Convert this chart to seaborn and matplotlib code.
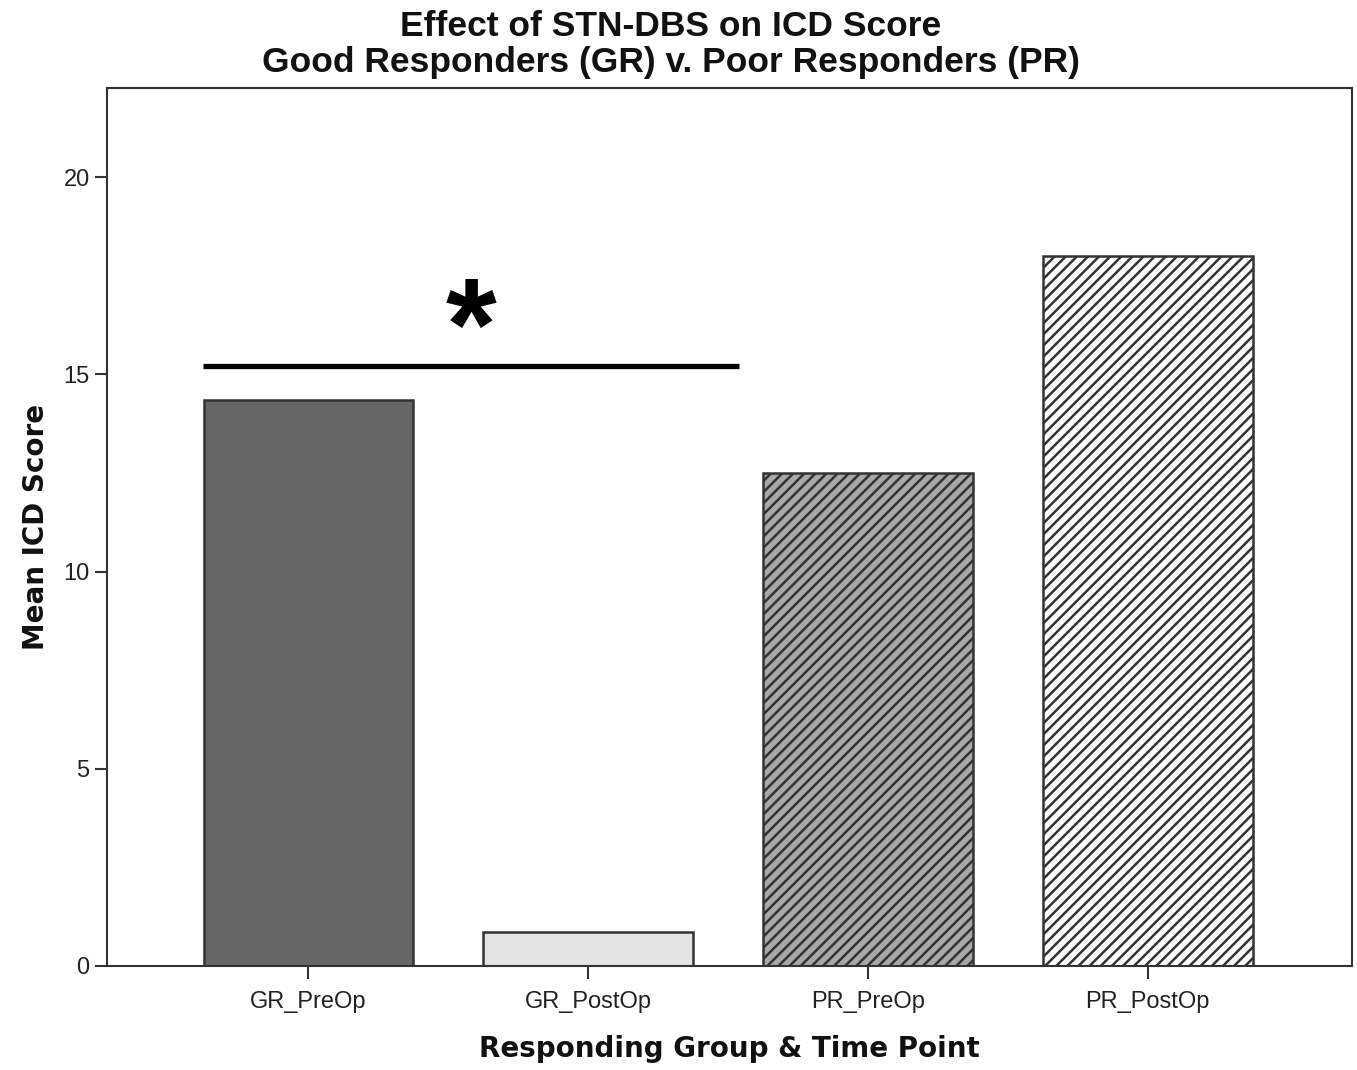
import pandas as pd
import matplotlib
matplotlib.use("Agg")
import matplotlib.pyplot as plt
import seaborn as sns

groups = ["GR_PreOp", "GR_PostOp", "PR_PreOp", "PR_PostOp"]
mean_icd = [14.35, 0.85, 12.5, 18.0]
fills = ["#666666", "#e3e3e3", "#a8a8a8", "#ffffff"]
hatches = ["", "", "///", "///"]

sig_y = 15.2
star_y = 15.1

df = pd.DataFrame({"group": groups, "score": mean_icd})

sns.set_style("white")
plt.rcParams["font.family"] = ["Liberation Sans", "DejaVu Sans"]
plt.rcParams["hatch.linewidth"] = 1.8
plt.rcParams["hatch.color"] = "#333333"

fig = plt.figure(figsize=(13.57, 10.70), dpi=100)
ax = fig.add_axes([0.0789, 0.0972, 0.9174, 0.8206])

sns.barplot(data=df, x="group", y="score", hue="group", palette=fills,
            width=0.75, edgecolor="#333333", linewidth=1.8, legend=False,
            errorbar=None, ax=ax)
for patch, h in zip(ax.patches, hatches):
    patch.set_hatch(h)

ax.set_xlim(-0.72, 3.73)
ax.set_ylim(0, 22.26)
ax.set_yticks([0, 5, 10, 15, 20])
ax.tick_params(axis="both", direction="out", length=9, width=1.5,
               color="#333333", labelsize=17, labelcolor="#222222", left=True, bottom=True)
ax.tick_params(axis="x", pad=9)
for s in ax.spines.values():
    s.set_color("#333333")
    s.set_linewidth(1.5)

# significance bar between GR_PreOp and GR_PostOp
ax.plot([-0.377, 1.54], [sig_y, sig_y], color="black", linewidth=3.8, solid_capstyle="butt")
ax.text(0.58, star_y, "*", fontsize=94, fontweight="bold", ha="center", va="baseline",
        color="black")

ax.set_xlabel("Responding Group & Time Point", fontsize=20, fontweight="bold",
              labelpad=16, family="DejaVu Sans", color="#111111")
ax.set_ylabel("Mean ICD Score", fontsize=20, fontweight="bold",
              labelpad=10, family="DejaVu Sans", color="#111111")
fig.text(0.4945, 0.991, "Effect of STN-DBS on ICD Score\nGood Responders (GR) v. Poor Responders (PR)",
         fontsize=25.5, fontweight="bold", linespacing=1.12, ha="center", va="top", color="#111111")

fig.savefig("out.png", dpi=100)
